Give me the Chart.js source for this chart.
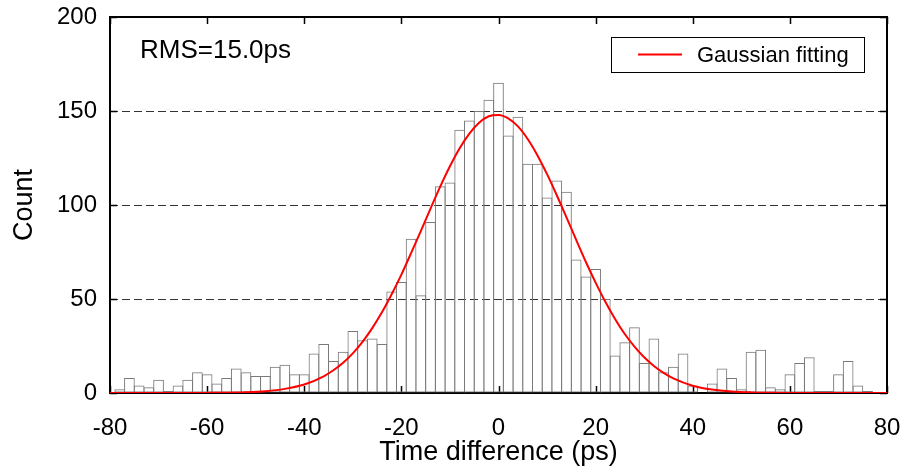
<!DOCTYPE html>
<html>
<head>
<meta charset="utf-8">
<script src="https://cdn.jsdelivr.net/npm/chart.js@4.4.0/dist/chart.umd.min.js"></script>
<style>
  html, body { margin: 0; padding: 0; background: #fff; }
  canvas { display: block; }
</style>
</head>
<body>
<canvas id="histChart" width="905" height="473"></canvas>
<script>
// histogram bins (2 ps wide, centred on even values)
const binCentres = [
  -80, -78, -76, -74, -72, -70, -68, -66, -64, -62, -60, -58, -56, -54, -52, -50, -48, -46, -44, -42,
  -40, -38, -36, -34, -32, -30, -28, -26, -24, -22, -20, -18, -16, -14, -12, -10, -8, -6, -4, -2,
  0, 2, 4, 6, 8, 10, 12, 14, 16, 18, 20, 22, 24, 26, 28, 30, 32, 34, 36, 38,
  40, 42, 44, 46, 48, 50, 52, 54, 56, 58, 60, 62, 64, 66, 68, 70, 72, 74, 76, 78, 80
];
const counts = [
  0, 2, 8, 4, 3, 7, 1, 4, 7, 11, 10, 5, 8, 13, 11, 9, 9, 14, 15, 10,
  10, 21, 26, 17, 22, 33, 28, 29, 26, 54, 59, 82, 52, 91, 110, 112, 140, 145, 150, 156,
  165, 137, 147, 122, 122, 104, 113, 107, 71, 62, 66, 50, 20, 27, 35, 16, 29, 11, 14, 21,
  4, 0, 5, 13, 8, 2, 22, 23, 3, 2, 10, 16, 19, 1, 1, 10, 17, 4, 1, 0, 0
];

// gaussian fit curve
const fitX = [
  -80, -76, -72, -68, -64, -60, -56, -52, -48, -44, -40, -36, -34, -32, -30, -28, -26, -24, -22, -20,
  -18, -16, -14, -12, -10, -8, -6, -4, -2, 0, 2, 4, 6, 8, 10, 12, 14, 16, 18, 20,
  22, 24, 26, 28, 30, 32, 34, 36, 40, 44, 48, 52, 56, 60, 64, 68, 72, 76, 80
];
const fitY = [
  0, 0, 0, 0.01, 0.02, 0.06, 0.15, 0.4, 0.96, 2.2, 4.5, 8.9, 12.1, 16.1, 21.1, 27.2, 34.5, 42.9, 52.5, 63.0,
  74.4, 86.1, 98.1, 109.8, 120.6, 130.2, 138.0, 143.8, 147.2, 147.9, 146.1, 141.8, 135.1, 126.5, 116.4, 105.2, 93.4, 81.4, 69.7, 58.7,
  48.5, 39.4, 31.4, 24.7, 19.0, 14.4, 10.7, 7.8, 3.9, 1.85, 0.8, 0.33, 0.13, 0.04, 0.01, 0, 0, 0, 0
];

const xTicks = [-80, -60, -40, -20, 0, 20, 40, 60, 80];
const yTicks = [0, 50, 100, 150, 200];
const rmsText = 'RMS=15.0ps';

const FONT = '"Liberation Sans", Arial, Helvetica, sans-serif';

// frame, inward tick marks, text box and legend
const decorations = {
  id: 'decorations',
  beforeDatasetsDraw(chart) {
    const { ctx, chartArea: a, scales: { x, y } } = chart;
    ctx.save();
    ctx.strokeStyle = '#000';
    ctx.lineWidth = 1.5;
    ctx.beginPath();
    xTicks.forEach(v => {
      const px = Math.round(x.getPixelForValue(v)) + 0.5;
      ctx.moveTo(px, a.bottom); ctx.lineTo(px, a.bottom - 7);
      ctx.moveTo(px, a.top); ctx.lineTo(px, a.top + 7);
    });
    yTicks.forEach(v => {
      const py = Math.round(y.getPixelForValue(v)) + 0.5;
      ctx.moveTo(a.left, py); ctx.lineTo(a.left + 7, py);
      ctx.moveTo(a.right, py); ctx.lineTo(a.right - 7, py);
    });
    ctx.stroke();
    ctx.lineWidth = 2;
    ctx.strokeRect(a.left, a.top, a.width, a.height);
    ctx.restore();
  },
  afterDraw(chart) {
    const { ctx, chartArea: a } = chart;
    ctx.save();
    ctx.fillStyle = '#000';
    ctx.font = '26px ' + FONT;
    ctx.textBaseline = 'middle';
    ctx.textAlign = 'left';
    ctx.fillText(rmsText, a.left + 30, a.top + 34);

    // legend box
    const bx = a.right - 276, by = a.top + 20, bw = 253, bh = 35;
    ctx.fillStyle = '#fff';
    ctx.fillRect(bx, by, bw, bh);
    ctx.strokeStyle = '#000';
    ctx.lineWidth = 1;
    ctx.strokeRect(bx + 0.5, by + 0.5, bw, bh);
    const fit = chart.data.datasets[0];
    ctx.strokeStyle = fit.borderColor;
    ctx.lineWidth = 2;
    ctx.beginPath();
    ctx.moveTo(bx + 27, by + bh / 2);
    ctx.lineTo(bx + 71, by + bh / 2);
    ctx.stroke();
    ctx.fillStyle = '#000';
    ctx.font = '22px ' + FONT;
    ctx.fillText(fit.label, bx + 86, by + bh / 2 + 1);
    ctx.restore();
  }
};

const ctx = document.getElementById('histChart').getContext('2d');
const histChart = new Chart(ctx, {
  type: 'bar',
  data: {
    datasets: [
      {
        type: 'line',
        label: 'Gaussian fitting',
        data: fitX.map((v, i) => ({ x: v, y: fitY[i] })),
        borderColor: '#ff0000',
        borderWidth: 2,
        pointRadius: 0,
        cubicInterpolationMode: 'monotone',
        fill: false,
        order: 1
      },
      {
        label: 'Counts',
        data: binCentres.map((v, i) => ({ x: v, y: counts[i] })),
        backgroundColor: 'rgba(255,255,255,0)',
        borderColor: '#7a7a7a',
        borderWidth: 1,
        borderSkipped: false,
        inflateAmount: 0,
        barPercentage: 1.1,
        categoryPercentage: 1,
        order: 2
      }
    ]
  },
  options: {
    responsive: false,
    animation: false,
    devicePixelRatio: 1,
    layout: { padding: { left: 0, top: 17, right: 18, bottom: 0 } },
    plugins: {
      legend: { display: false },
      tooltip: { enabled: false }
    },
    scales: {
      x: {
        type: 'linear',
        min: -80,
        max: 80,
        offset: false,
        afterBuildTicks: s => { s.ticks = xTicks.map(v => ({ value: v })); },
        afterFit: s => { s.height = 80; s.paddingLeft = 0; s.paddingRight = 0; },
        grid: { display: false, drawTicks: false },
        border: { display: false },
        ticks: {
          color: '#000',
          font: { family: FONT, size: 24 },
          padding: 21,
          maxRotation: 0,
          autoSkip: false
        },
        title: {
          display: true,
          text: 'Time difference (ps)',
          color: '#000',
          font: { family: FONT, size: 27 },
          padding: { top: 0, bottom: 4 }
        }
      },
      y: {
        min: 0,
        max: 200,
        afterBuildTicks: s => { s.ticks = yTicks.map(v => ({ value: v })); },
        afterFit: s => { s.width = 110; s.paddingTop = 0; s.paddingBottom = 0; },
        grid: {
          drawTicks: false,
          color: c => (c.tick && (c.tick.value === 0 || c.tick.value === 200)) ? 'rgba(0,0,0,0)' : '#333',
          lineWidth: 1
        },
        border: { display: false, dash: [8, 4] },
        ticks: {
          color: '#000',
          font: { family: FONT, size: 24 },
          padding: 13
        },
        title: {
          display: true,
          text: 'Count',
          color: '#000',
          font: { family: FONT, size: 27 },
          padding: { top: 8, bottom: 0 }
        }
      }
    }
  },
  plugins: [decorations]
});
</script>
</body>
</html>
